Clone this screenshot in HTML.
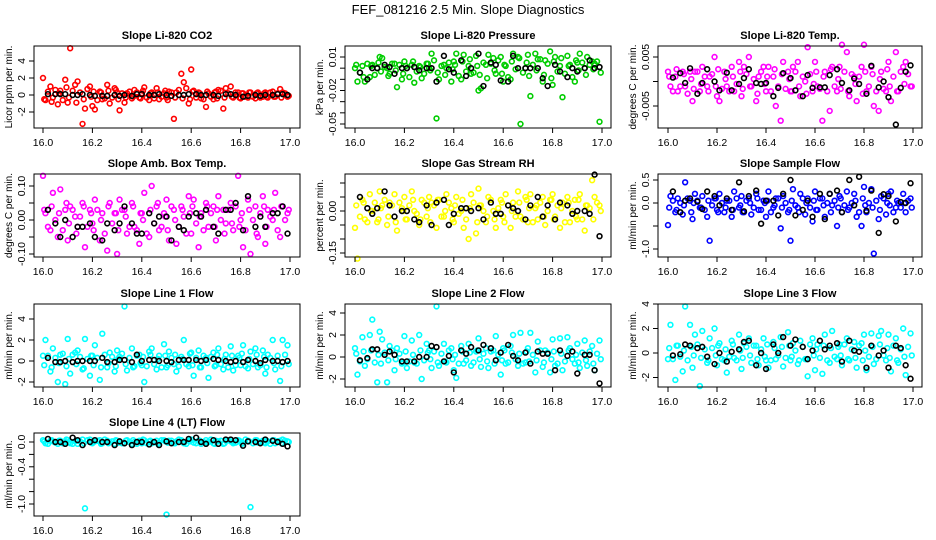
<!DOCTYPE html>
<html><head><meta charset="utf-8"><title>FEF_081216 2.5 Min. Slope Diagnostics</title>
<style>html,body{margin:0;padding:0;background:#fff;}svg{display:block;font-family:"Liberation Sans",sans-serif;}</style>
</head><body>
<svg id="chart" width="936" height="540" viewBox="0 0 936 540" xmlns="http://www.w3.org/2000/svg">
<text x="468" y="14" text-anchor="middle" font-size="13">FEF_081216  2.5 Min. Slope Diagnostics</text>
</svg>
<script>
const xTickVals = [16.0,16.2,16.4,16.6,16.8,17.0];
const xTickLabels = ["16.0","16.2","16.4","16.6","16.8","17.0"];
const timesColor = [16.00,16.01,16.03,16.04,16.06,16.07,16.09,16.10,16.11,16.13,16.14,16.16,16.17,16.19,16.20,16.21,16.23,16.24,16.26,16.27,16.29,16.30,16.31,16.33,16.34,16.36,16.37,16.39,16.40,16.41,16.43,16.44,16.46,16.47,16.49,16.50,16.51,16.53,16.54,16.56,16.57,16.59,16.60,16.61,16.63,16.64,16.66,16.67,16.69,16.70,16.71,16.73,16.74,16.76,16.77,16.79,16.80,16.81,16.83,16.84,16.86,16.87,16.89,16.90,16.91,16.93,16.94,16.96,16.97,16.99];
const timesBand = [16.005,16.02,16.035,16.05,16.065,16.08,16.095,16.105,16.12,16.135,16.15,16.165,16.18,16.195,16.205,16.22,16.235,16.25,16.265,16.28,16.295,16.305,16.32,16.335,16.35,16.365,16.38,16.395,16.405,16.42,16.435,16.45,16.465,16.48,16.495,16.505,16.52,16.535,16.55,16.565,16.58,16.595,16.605,16.62,16.635,16.65,16.665,16.68,16.695,16.705,16.72,16.735,16.75,16.765,16.78,16.795,16.805,16.82,16.835,16.85,16.865,16.88,16.895,16.905,16.92,16.935,16.95,16.965,16.98,16.995];
const timesBlack = [16.02,16.05,16.07,16.09,16.12,16.14,16.16,16.19,16.21,16.24,16.26,16.29,16.31,16.33,16.36,16.38,16.40,16.43,16.45,16.47,16.50,16.52,16.55,16.57,16.59,16.62,16.64,16.66,16.69,16.71,16.74,16.76,16.78,16.81,16.83,16.86,16.88,16.90,16.93,16.95,16.97,16.99];

const co2Color = [2.0,-0.6,1.0,-0.3,-1.1,0.5,1.8,-0.9,5.5,1.2,1.6,-3.4,-1.6,1.0,-1.3,-1.7,0.4,-0.5,1.2,-1.0,0.8,0.3,-1.8,-0.9,0.2,-0.4,0.6,-0.3,0.2,0.9,-0.6,0.3,0.8,-0.5,0.2,-0.3,0.4,-2.8,0.3,2.5,1.5,-1.0,3.0,0.5,0.3,-0.4,-1.4,0.2,-0.5,0.4,0.6,-1.6,0.8,1.0,-0.3,0.3,-0.4,0.2,-0.3,0.3,-0.4,0.3,-0.2,0.3,-0.3,0.4,-0.2,0.7,0.3,-0.2];
const co2Band = [-0.5,0.4,-0.8,0.6,0.2,-0.6,0.9,-0.3,0.5,-0.9,0.3,-0.5,0.7,-0.2,0.4,-0.6,0.3,-0.4,0.5,-0.3,0.6,-0.5,0.2,-0.3,0.4,-0.2,0.3,-0.4,0.5,-0.3,0.2,-0.4,0.3,-0.2,0.5,-0.6,0.3,-0.3,0.6,-0.4,0.8,-0.5,0.4,-0.3,0.2,-0.5,0.4,-0.2,0.3,-0.4,0.5,-0.3,0.2,-0.2,0.3,-0.3,0.2,-0.2,0.3,-0.2,0.2,-0.3,0.2,-0.2,0.3,-0.2,0.2,-0.3,0.2,-0.1];
const co2Black = [0.1,0.1,0.1,0.1,0,0,0.1,0,-0.1,-0.1,-0.1,0,-0.1,0,-0.1,0.1,0.1,0,0,0.1,0,-0.1,0,0,0.1,0.1,0,0,0,-0.1,0.1,0.1,0,-0.2,-0.1,0,-0.1,0,0,0.1,0.1,0];
const presColor = [0.0,-0.012,0.002,-0.012,-0.008,0.003,0.0,0.01,0.009,0.0,-0.005,0.004,-0.017,-0.01,0.006,0.0,0.003,-0.013,0.002,-0.009,0.004,0.0,0.013,-0.045,-0.01,0.003,0.0,-0.012,0.006,0.013,-0.01,0.012,0.002,-0.005,0.011,-0.02,-0.018,0.003,0.012,0.009,-0.005,0.01,-0.012,0.002,-0.01,0.013,0.01,-0.05,0.0,0.012,-0.025,0.013,0.008,-0.012,0.007,0.015,-0.015,0.01,0.002,-0.026,0.011,0.003,-0.012,0.005,0.013,0.0,0.01,0.006,0.004,-0.048];
const presBand = [0.003,-0.004,-0.008,0.004,0.002,-0.006,0.005,-0.003,0.001,-0.007,0.004,-0.002,0.003,-0.005,0.002,-0.008,0.006,-0.003,0.001,-0.005,0.004,-0.002,0.007,-0.004,0.002,-0.006,0.005,-0.001,0.003,-0.007,0.006,-0.003,0.008,-0.004,0.002,-0.006,0.005,-0.009,0.004,-0.002,0.007,-0.005,0.003,-0.008,0.006,-0.001,0.009,-0.004,0.005,-0.007,0.003,-0.002,0.008,-0.006,0.004,-0.009,0.006,-0.003,0.009,-0.005,0.002,-0.008,0.007,-0.002,0.005,-0.006,0.003,-0.001,0.006,-0.004];
const presBlack = [-0.004,-0.01,0.0,0.0,0.003,0.001,-0.005,0.0,0.0,0.001,-0.002,0.0,0.0,-0.012,0.011,-0.001,-0.004,0.007,-0.007,0.0,0.013,-0.016,0.005,0.003,-0.011,-0.012,0.011,0.0,0.0,0.0,0.0,-0.009,-0.016,0.003,-0.003,-0.008,0.0,-0.003,0.0,0.007,0.0,0.001];
const licTempColor = [0.002,-0.001,0.001,-0.002,0.002,-0.001,0.002,-0.004,0.002,-0.002,0.003,-0.001,0.001,0.005,-0.003,-0.004,0.002,-0.001,0.003,-0.002,0.004,-0.003,0.003,0.005,-0.001,-0.004,0.001,0.003,-0.002,0.003,0.001,-0.005,-0.008,0.004,0.002,-0.002,0.003,0.004,-0.003,0.0,0.007,-0.002,0.004,-0.001,-0.008,0.002,-0.006,0.003,-0.002,0.003,0.0075,0.006,-0.003,0.001,-0.004,0.003,0.0075,-0.002,0.003,-0.005,-0.006,0.002,-0.002,0.004,-0.004,0.006,-0.002,0.003,0.004,-0.001];
const licTempBand = [0.001,-0.002,0.0025,-0.001,0.0015,-0.0025,0.0005,-0.0015,0.002,-0.0005,0.001,-0.002,0.0015,-0.001,0.0025,-0.0015,0.0005,-0.002,0.001,-0.0005,0.002,-0.0015,0.0015,-0.001,0.0005,-0.0025,0.002,-0.0005,0.001,-0.002,0.0025,-0.001,0.0015,-0.0015,0.0005,-0.002,0.002,-0.001,0.001,-0.0025,0.0015,-0.0005,0.002,-0.0015,0.001,-0.002,0.0025,-0.001,0.0005,-0.0015,0.002,-0.002,0.0015,-0.0005,0.001,-0.0025,0.002,-0.001,0.0015,-0.002,0.0005,-0.0015,0.0025,-0.001,0.001,-0.002,0.002,-0.0005,0.0015,-0.001];
const licTempBlack = [0.0008,0.0017,-0.0003,0.0027,-0.0025,-0.0003,0.0025,0.0,-0.0018,0.0018,-0.0018,-0.0005,0.0007,0.0025,-0.0003,-0.0005,-0.0003,-0.003,-0.0013,0.0017,0.0007,-0.0018,-0.003,0.0013,-0.0013,-0.0012,-0.0012,0.0013,0.0025,-0.0003,-0.0018,0.0006,-0.0005,-0.0025,0.0032,-0.0012,0.0,-0.0032,-0.0088,-0.0013,0.002,0.0033];
const boxTempColor = [0.13,0.02,-0.03,0.08,-0.05,0.09,0.03,-0.06,0.04,0.01,-0.02,0.05,-0.08,0.03,-0.01,0.06,-0.06,0.02,-0.09,0.05,0.02,-0.1,0.06,0.03,-0.04,0.05,-0.02,-0.07,0.02,0.08,-0.05,0.1,0.04,-0.03,0.02,0.06,-0.06,0.03,-0.07,0.04,0.01,0.07,-0.04,0.06,-0.08,0.02,0.05,-0.02,0.04,-0.06,0.07,0.03,-0.01,0.05,-0.03,0.13,0.0,-0.08,0.06,-0.1,0.04,-0.05,0.07,-0.07,0.03,0.0,0.08,-0.05,0.04,0.02];
const boxTempBand = [0.03,-0.02,0.04,0.0,0.02,-0.03,0.05,-0.01,0.03,-0.04,0.01,0.04,-0.02,0.02,-0.03,0.03,0.0,-0.04,0.04,-0.01,0.02,-0.03,0.03,0.01,-0.02,0.04,-0.03,0.02,0.0,-0.04,0.03,-0.01,0.05,-0.02,0.01,-0.03,0.04,0.0,-0.02,0.03,-0.04,0.02,0.04,-0.01,0.01,-0.03,0.04,0.02,-0.02,0.03,0.0,-0.04,0.03,-0.01,0.04,-0.02,0.02,-0.03,0.03,0.0,-0.04,0.02,0.04,-0.02,0.01,0.03,-0.03,0.04,0.0,0.03];
const boxTempBlack = [0.03,-0.01,-0.05,0.0,-0.05,-0.02,-0.02,-0.01,-0.05,-0.06,-0.01,-0.03,-0.01,0.04,-0.01,-0.04,-0.04,0.02,-0.01,0.01,0.01,-0.06,-0.02,-0.03,0.01,0.02,0.01,0.03,-0.02,-0.04,0.03,0.03,0.05,-0.03,0.07,-0.02,0.01,-0.02,0.02,0.02,0.04,-0.04];
const rhColor = [-0.06,-0.17,0.04,-0.03,0.06,0.0,-0.04,0.07,0.02,-0.05,0.03,0.06,-0.07,0.01,0.05,-0.03,0.07,0.0,-0.05,0.04,-0.02,0.05,0.03,-0.06,0.04,-0.02,0.06,0.01,-0.04,0.05,0.0,-0.06,-0.1,0.06,-0.08,0.08,0.02,-0.04,0.05,0.0,-0.06,0.04,-0.02,0.06,-0.06,0.03,0.07,-0.02,0.05,-0.04,0.06,0.01,-0.03,0.05,-0.05,0.04,0.06,-0.02,-0.06,0.03,0.05,-0.04,0.04,-0.03,0.06,-0.07,0.02,0.11,0.05,0.02];
const rhBand = [0.02,-0.02,0.03,-0.04,0.0,0.03,-0.03,0.01,0.04,-0.02,0.02,-0.04,0.03,0.0,-0.03,0.02,0.04,-0.01,-0.03,0.03,0.01,-0.04,0.02,0.04,-0.02,0.0,0.03,-0.03,0.02,-0.01,0.04,-0.03,0.01,0.03,-0.04,0.02,0.0,-0.02,0.04,-0.03,0.01,0.03,-0.04,0.02,0.0,-0.02,0.03,-0.03,0.04,0.01,-0.04,0.02,0.03,-0.02,0.0,0.04,-0.03,0.02,0.01,-0.04,0.03,0.0,-0.02,0.04,-0.03,0.02,0.01,-0.03,0.03,0.0];
const rhBlack = [0.05,0.01,-0.01,0.01,0.07,0.02,-0.02,0.0,0.0,-0.03,-0.04,0.02,-0.05,0.03,0.04,-0.05,-0.01,0.01,0.01,0.0,0.01,-0.03,0.03,-0.01,-0.01,0.02,0.01,0.0,-0.03,0.02,0.05,-0.02,0.02,-0.03,0.03,0.02,-0.01,0.0,0.0,-0.01,0.13,-0.09];
const flowColor = [-0.48,0.15,-0.2,0.1,-0.25,0.45,0.05,-0.35,0.2,-0.1,0.15,-0.3,-0.82,0.1,-0.15,0.2,-0.2,0.05,-0.3,0.25,-0.1,0.15,-0.2,0.1,-0.25,0.2,-0.15,0.05,-0.3,0.25,-0.1,0.1,-0.55,0.15,-0.2,-0.82,0.3,-0.1,0.2,-0.25,0.1,-0.4,0.25,-0.15,0.1,-0.3,0.2,-0.05,-0.5,0.15,-0.2,0.25,-0.1,0.2,-0.3,-0.5,0.35,-0.2,0.3,-1.1,-0.35,0.15,-0.25,0.2,0.25,-0.1,0.0,0.2,-0.2,0.1];
const flowBand = [-0.1,0.05,-0.15,0.0,-0.05,0.1,-0.2,0.0,0.05,-0.1,-0.15,0.05,-0.05,0.1,-0.2,0.0,-0.1,0.05,-0.15,0.1,-0.05,-0.2,0.05,0.0,-0.1,0.1,-0.15,0.0,0.05,-0.2,-0.05,0.1,-0.1,0.0,-0.15,0.05,-0.05,-0.2,0.1,0.0,-0.1,0.05,-0.15,0.1,-0.05,0.0,-0.2,0.05,-0.1,0.1,-0.05,-0.15,0.0,0.05,-0.2,0.1,-0.05,0.0,-0.1,0.05,-0.15,0.1,0.0,-0.05,-0.2,0.05,-0.1,0.0,0.05,-0.1];
const flowBlack = [0.25,-0.2,0.05,0.1,0.03,-0.13,0.25,0.15,-0.05,0.1,-0.15,0.45,-0.18,0.15,0.27,-0.45,0.05,0.05,-0.27,0.2,0.5,-0.27,-0.15,0.05,-0.3,0.2,-0.35,0.2,0.27,-0.2,0.5,-0.05,0.57,-0.17,0.27,-0.65,0.19,0.15,-0.4,0.02,0.0,0.43];
const line1Color = [0.5,2.0,-1.0,1.2,-2.0,0.6,-2.2,2.1,-1.2,0.8,1.0,-0.8,2.1,-1.4,0.5,1.5,-1.8,2.6,-0.6,0.8,-1.0,1.0,0.4,5.2,-0.9,1.2,-0.5,0.6,-0.4,-2.0,0.9,1.2,-0.8,0.5,1.6,-0.6,0.9,-0.3,-1.0,0.4,2.0,-0.5,0.8,-1.4,1.0,-0.6,0.3,-1.6,0.8,-0.4,1.2,-0.8,0.6,1.4,-0.9,0.5,-0.4,1.5,-0.7,0.9,1.2,-0.6,1.0,-1.2,0.6,2.0,-0.8,-1.9,2.0,1.5];
const line1Band = [-0.4,0.5,-0.6,0.3,-0.2,0.7,-0.5,0.2,0.6,-0.3,0.4,-0.7,0.2,0.5,-0.4,0.3,-0.6,0.6,-0.2,0.4,-0.5,0.2,0.7,-0.3,0.3,-0.6,0.5,-0.2,0.4,-0.5,0.6,-0.3,0.2,-0.6,0.5,-0.4,0.3,0.6,-0.5,0.2,-0.3,0.7,-0.4,0.3,-0.6,0.5,-0.2,0.4,-0.5,0.6,-0.3,0.2,-0.6,0.5,-0.4,0.3,0.7,-0.5,0.2,-0.3,0.6,-0.4,0.4,-0.6,0.3,-0.2,0.5,-0.5,0.6,-0.3];
const line1Black = [0.3,-0.1,-0.1,0,-0.1,0,0,0,0,0.3,-0.1,-0.1,0.1,0.1,-0.1,0.6,0,0.1,0.1,0,0,-0.1,0.1,0.1,0.1,0.1,0,0.1,0.2,0.1,0,-0.1,0,-0.1,0.1,0,-0.2,0.1,0,0,-0.1,0];
const line2Color = [0.8,-1.6,1.8,-0.8,2.0,3.4,-2.3,2.3,1.6,-2.3,1.0,-1.2,0.8,-0.6,1.9,-1.0,1.5,-0.5,2.0,-2.0,1.2,0.6,-1.0,4.6,-0.8,1.2,-0.5,0.8,-1.2,-1.9,1.0,-0.6,1.2,-0.8,0.5,1.7,-0.9,0.8,-1.0,0.6,1.9,-1.6,0.8,-0.6,1.0,2.0,-0.8,2.2,-0.5,0.8,2.2,-1.4,1.4,-0.9,0.6,-1.4,1.6,-0.8,1.7,-1.2,1.8,0.8,-0.6,1.2,-1.0,1.5,-0.8,1.0,-1.2,1.5];
const line2Band = [0.3,-0.4,0.5,-0.2,0.6,-0.5,0.2,-0.6,0.4,-0.3,0.6,-0.2,0.3,-0.5,0.5,-0.4,0.2,-0.6,0.6,-0.3,0.4,-0.2,0.5,-0.5,0.3,-0.4,0.6,-0.2,0.2,-0.6,0.5,-0.3,0.4,-0.5,0.6,-0.2,0.3,-0.4,0.5,-0.6,0.2,-0.3,0.6,-0.5,0.4,-0.2,0.3,-0.6,0.5,-0.4,0.2,-0.3,0.6,-0.5,0.4,-0.2,0.5,-0.6,0.3,-0.4,0.6,-0.2,0.2,-0.5,0.4,-0.3,0.5,-0.6,0.3,-0.2];
const line2Black = [-0.3,-0.1,0.7,0.7,0.2,0.5,0.2,-0.4,-0.4,-0.4,0.0,0.0,1.0,0.9,-0.4,0.1,-1.4,0.6,0.3,0.9,0.6,1.1,0.8,-0.3,0.4,1.1,0.1,-0.3,0.4,-0.6,0.5,0.3,0.3,-1.2,0.6,0.1,0.5,-1.5,0.2,0.2,-1.2,-2.4];
const line3Color = [-0.5,2.3,-2.2,0.6,-1.5,3.8,2.3,-1.2,1.5,-2.7,1.8,-0.8,1.2,2.0,-1.0,0.8,-0.6,-1.6,1.0,-0.4,1.5,-1.3,0.8,1.2,-0.8,0.6,-1.0,1.2,-0.6,-1.2,0.9,-0.5,1.3,-1.1,1.7,-0.6,0.8,-0.9,1.0,-0.5,-1.9,1.2,-1.4,0.7,-1.7,1.5,-0.8,1.8,-0.5,0.7,-1.0,1.2,-0.6,0.9,-1.2,0.8,1.5,-1.4,1.6,-0.9,1.4,1.8,-0.6,1.5,-1.5,1.2,-0.8,2.0,-1.8,1.6];
const line3Band = [0.4,-0.5,0.6,-0.3,0.2,-0.6,0.5,-0.2,0.7,-0.4,0.3,-0.6,0.4,-0.2,0.6,-0.5,0.3,-0.3,0.7,-0.6,0.2,-0.4,0.5,-0.2,0.6,-0.5,0.3,-0.3,0.7,-0.6,0.4,-0.2,0.5,-0.4,0.6,-0.3,0.2,-0.6,0.5,-0.5,0.7,-0.2,0.3,-0.4,0.6,-0.6,0.4,-0.3,0.5,-0.2,0.7,-0.5,0.3,-0.4,0.6,-0.6,0.2,-0.3,0.5,-0.5,0.7,-0.2,0.4,-0.4,0.6,-0.6,0.3,-0.3,0.5,-0.2];
const line3Black = [-0.2,-0.1,0.7,0.6,0.4,0.5,-0.3,-0.9,0.0,-0.7,0.1,0.3,0.9,1.0,-1.0,0.0,-1.3,0.7,0.0,1.3,0.6,1.1,0.5,-0.5,0.2,1.0,0.3,0.6,0.8,-0.7,1.0,0.2,0.1,-1.2,0.6,-0.2,0.2,-1.2,0.6,0.4,-1.0,-2.1];
const line4Color = [0.03,-0.02,0.02,0.01,-0.03,0.02,0.0,0.03,-0.02,0.01,-0.03,0.04,-1.07,0.04,-0.02,0.01,0.03,-0.02,0.02,0.0,-0.03,0.02,0.01,-0.02,0.03,-0.03,0.0,0.02,-0.02,0.03,0.01,-0.02,0.02,-0.01,0.03,-1.17,0.02,-0.02,0.01,0.03,-0.02,0.02,0.04,-0.01,0.02,-0.03,0.03,0.0,-0.02,0.02,0.01,-0.03,0.02,0.01,-0.02,0.03,0.0,-0.02,0.02,-1.05,0.03,-0.01,0.02,-0.02,0.01,0.03,-0.02,0.02,0.04,0.01];
const line4Band = [0.01,-0.03,0.03,-0.01,0.02,-0.02,0.04,0.0,-0.03,0.02,0.01,-0.02,0.03,-0.01,0.0,0.02,-0.03,0.04,-0.02,0.01,0.03,-0.01,-0.02,0.02,0.0,0.03,-0.03,0.01,0.04,-0.02,0.02,0.0,-0.03,0.03,0.01,-0.01,0.02,-0.02,0.04,0.0,-0.03,0.01,0.03,-0.02,0.02,0.0,-0.01,0.04,-0.03,0.01,0.02,-0.02,0.03,0.0,-0.01,0.02,-0.03,0.04,0.01,-0.02,0.03,0.0,-0.01,0.02,-0.03,0.03,0.01,-0.02,0.02,0.0];
const line4Black = [0.05,0.0,0.0,-0.03,0.07,0.03,-0.05,0.0,0.03,0.0,0.0,-0.05,0.01,-0.02,-0.05,0.0,0.0,-0.04,0.0,-0.05,0.01,-0.02,0.0,0.0,0.05,0.07,0.0,-0.03,0.03,-0.03,0.04,0.04,0.03,-0.06,0.01,0.0,-0.02,0.04,0.02,0.0,-0.03,-0.07];

const NS = "http://www.w3.org/2000/svg";
const svg = document.getElementById('chart');
const cols = [{l:34,r:300,x0:43,x1:290,yl:12},{l:345,r:611,x0:355,x1:602,yl:323},{l:658,r:922,x0:668,x1:913,yl:636}];
const rows = [{t:46,b:128},{t:174,b:257},{t:304,b:387},{t:433,b:516}];
const panels = [
 {name:'co2',title:'Slope Li-820 CO2',ylab:'Licor ppm per min.',col:0,row:0,color:'#ff0000',cy:co2Color,band:co2Band,by:co2Black,cal:[0,95,4,61],ticks:[-2,0,2,4],labels:['-2','0','2','4']},
 {name:'pressure',title:'Slope Li-820 Pressure',ylab:'kPa per min.',col:1,row:0,color:'#00cd00',cy:presColor,band:presBand,by:presBlack,cal:[0.01,57,-0.05,124],ticks:[0.01,0,-0.01,-0.02,-0.03,-0.04,-0.05],labels:['0.01','','','-0.02','','','-0.05']},
 {name:'licor-temp',title:'Slope Li-820 Temp.',ylab:'degrees C per min.',col:2,row:0,color:'#ff00ff',cy:licTempColor,band:licTempBand,by:licTempBlack,cal:[0.005,57,-0.005,106],ticks:[0.005,0,-0.005],labels:['0.005','','-0.005']},
 {name:'box-temp',title:'Slope Amb. Box Temp.',ylab:'degrees C per min.',col:0,row:1,color:'#ff00ff',cy:boxTempColor,band:boxTempBand,by:boxTempBlack,cal:[0.1,186,-0.1,254],ticks:[0.1,0.05,0,-0.05,-0.1],labels:['0.10','','0.00','','-0.10']},
 {name:'gas-rh',title:'Slope Gas Stream RH',ylab:'percent per min.',col:1,row:1,color:'#ffff00',cy:rhColor,band:rhBand,by:rhBlack,cal:[0,211,-0.15,253],ticks:[0.1,0.05,0,-0.05,-0.1,-0.15],labels:['','','0.00','','','-0.15']},
 {name:'sample-flow',title:'Slope Sample Flow',ylab:'ml/min per min.',col:2,row:1,color:'#0000ff',cy:flowColor,band:flowBand,by:flowBlack,cal:[0.5,180,-1,249],ticks:[0.5,0,-0.5,-1],labels:['0.5','0.0','','-1.0']},
 {name:'line1-flow',title:'Slope Line 1 Flow',ylab:'ml/min per min.',col:0,row:2,color:'#00ffff',cy:line1Color,band:line1Band,by:line1Black,cal:[0,361,4,319],ticks:[-2,0,2,4],labels:['-2','0','2','4']},
 {name:'line2-flow',title:'Slope Line 2 Flow',ylab:'ml/min per min.',col:1,row:2,color:'#00ffff',cy:line2Color,band:line2Band,by:line2Black,cal:[0,357,4,313],ticks:[-2,0,2,4],labels:['-2','0','2','4']},
 {name:'line3-flow',title:'Slope Line 3 Flow',ylab:'ml/min per min.',col:2,row:2,color:'#00ffff',cy:line3Color,band:line3Band,by:line3Black,cal:[0,353,4,304],ticks:[-2,0,2,4],labels:['-2','0','2','4']},
 {name:'line4-flow',title:'Slope Line 4 (LT) Flow',ylab:'ml/min per min.',col:0,row:3,color:'#00ffff',cy:line4Color,band:line4Band,by:line4Black,cal:[0,442,-1,504],ticks:[0,-0.2,-0.4,-0.6,-0.8,-1],labels:['0.0','','-0.4','','','-1.0']}
];
function mk(tag, attrs, parent){const e=document.createElementNS(NS,tag);for(const k in attrs)e.setAttribute(k,attrs[k]);(parent||svg).appendChild(e);return e;}
panels.forEach(p=>{
  const c=cols[p.col], r=rows[p.row];
  const xs=v=>c.x0+(v-16)*(c.x1-c.x0);
  const ys=v=>p.cal[1]+(v-p.cal[0])*(p.cal[3]-p.cal[1])/(p.cal[2]-p.cal[0]);
  const g=mk('g',{});
  
  
  const t=mk('text',{x:(c.l+c.r)/2,y:r.t-7,'text-anchor':'middle','font-size':'11','font-weight':'bold'},g);
  t.textContent=p.title;
  
  
  const yl=mk('text',{x:0,y:0,'text-anchor':'middle','font-size':'10',transform:`translate(${c.yl},${(r.t+r.b)/2}) rotate(-90)`},g);
  yl.textContent=p.ylab;
  
  
  const pts=mk('g',{},g);
  
  
  const nb=Math.min(p.band.length,timesBand.length);
  for(let i=0;i<nb;i++){
    const ci=mk('circle',{cx:xs(timesBand[i]),cy:ys(p.band[i]),r:2.4,fill:'none',stroke:p.color,'stroke-width':1.6},pts);
    
    
  }
  const n=Math.min(p.cy.length,timesColor.length);
  for(let i=0;i<n;i++){
    const ci=mk('circle',{cx:xs(timesColor[i]),cy:ys(p.cy[i]),r:2.4,fill:'none',stroke:p.color,'stroke-width':1.6},pts);
    
    
  }
  const bpts=mk('g',{},g);
  
  
  const m=Math.min(p.by.length,timesBlack.length);
  for(let i=0;i<m;i++){
    const ci=mk('circle',{cx:xs(timesBlack[i]),cy:ys(p.by[i]),r:2.4,fill:'none',stroke:'#000','stroke-width':1.6},bpts);
    
    
  }
  const box=mk('rect',{x:c.l,y:r.t,width:c.r-c.l,height:r.b-r.t,fill:'none',stroke:'#000','stroke-width':1},g);
  
  
  const xa=mk('g',{},g);
  
  
  mk('line',{x1:xs(16),x2:xs(17),y1:r.b,y2:r.b,stroke:'#000'},xa);
  xTickVals.forEach((v,i)=>{
    mk('line',{x1:xs(v),x2:xs(v),y1:r.b,y2:r.b+5,stroke:'#000'},xa);
    const tl=mk('text',{x:xs(v),y:r.b+18,'text-anchor':'middle','font-size':'10.5'},xa);
    tl.textContent=xTickLabels[i];
    
    
  });
  const ya=mk('g',{},g);
  
  
  mk('line',{x1:c.l,x2:c.l,y1:ys(p.ticks[0]),y2:ys(p.ticks[p.ticks.length-1]),stroke:'#000'},ya);
  p.ticks.forEach((v,i)=>{
    const y=ys(v);
    mk('line',{x1:c.l-5,x2:c.l,y1:y,y2:y,stroke:'#000'},ya);
    if(p.labels[i]){
      const tl=mk('text',{x:0,y:0,'text-anchor':'middle','font-size':'10.5',transform:`translate(${c.l-9},${y}) rotate(-90)`},ya);
      tl.textContent=p.labels[i];
      
      
    }
  });
});
</script>
</body></html>
